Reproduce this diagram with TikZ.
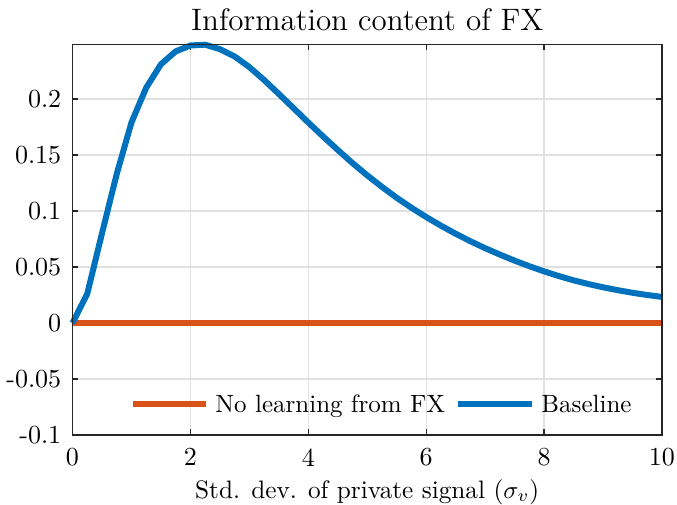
\documentclass[tikz,border=0pt]{standalone}
\definecolor{lineblue}{rgb}{0,0.447,0.741}
\definecolor{lineorange}{rgb}{0.85,0.325,0.098}
\definecolor{gridgray}{rgb}{0.88,0.88,0.88}
\definecolor{axisgray}{rgb}{0.15,0.15,0.15}
\begin{document}
\begin{tikzpicture}[x=23.58pt,y=448pt,
  gridline/.style={gridgray,line width=0.5pt},
  tickmark/.style={axisgray,line width=0.5pt},
  curve/.style={line width=2.4pt,line join=round},
  lbl/.style={inner sep=0pt,font=\fontsize{10.4}{12}\selectfont},
  leglbl/.style={inner sep=0pt,font=\fontsize{10}{12}\selectfont,anchor=base west}]
\useasboundingbox (-1.2298,-0.1616) rectangle (10.2545,0.2884);
\foreach \x in {2,4,6,8} \draw[gridline] (\x,-0.1) -- (\x,0.249);
\foreach \y in {-0.05,0,0.05,0.1,0.15,0.2} \draw[gridline] (0,\y) -- (10,\y);
\foreach \x in {0,2,...,10} {
  \draw[tickmark] (\x,-0.1) -- ++(0pt,2.4pt);
  \draw[tickmark] (\x,0.249) -- ++(0pt,-2.4pt);
  \node[lbl,anchor=north] (xt\x) at ([yshift=-5.2pt]\x,-0.1) {\x};
}
\foreach \y [count=\i] in {-0.1,-0.05,0,0.05,0.1,0.15,0.2} {
  \draw[tickmark] (0,\y) -- ++(2.4pt,0pt);
  \draw[tickmark] (10,\y) -- ++(-2.4pt,0pt);
  \node[lbl,anchor=east] (yt\i) at ([xshift=-4.3pt]0,\y) {\y};
}
\draw[curve,lineorange] (0,0) -- (10,0);
\draw[curve,lineblue] plot coordinates {(0,0) (0.25,0.026) (0.5,0.080) (0.75,0.133)
  (1,0.179) (1.25,0.210) (1.5,0.231) (1.75,0.2425) (2,0.2478) (2.25,0.2485)
  (2.5,0.2445) (2.75,0.2380) (3,0.2285) (3.25,0.2170) (3.5,0.2045) (3.75,0.1918)
  (4,0.1790) (4.25,0.1666) (4.5,0.1545) (4.75,0.1428) (5,0.1318) (5.25,0.1215)
  (5.5,0.1118) (5.75,0.1029) (6,0.0946) (6.25,0.0869) (6.5,0.0797) (6.75,0.0730)
  (7,0.0668) (7.25,0.0611) (7.5,0.0557) (7.75,0.0507) (8,0.0461) (8.25,0.0419)
  (8.5,0.0381) (8.75,0.0348) (9,0.0319) (9.25,0.0293) (9.5,0.0270) (9.75,0.0250)
  (10,0.0233)};
\draw[tickmark] (0,-0.1) rectangle (10,0.249);
\node[leglbl] (legno) at (2.417,-0.0795) {No learning from FX};
\node[leglbl] (legbase) at (7.947,-0.0795) {Baseline};
\draw[curve,lineorange] ([xshift=-3.6pt,yshift=3.2pt]legno.base west) -- ++(-29.2pt,0pt);
\draw[curve,lineblue] ([xshift=-3.6pt,yshift=3.2pt]legbase.base west) -- ++(-29.6pt,0pt);
\node[inner sep=0pt,font=\fontsize{12.4}{15}\selectfont,anchor=base] (title) at (5,0.2616) {Information content of FX};
\node[inner sep=0pt,font=\fontsize{10.1}{12}\selectfont,anchor=base] (xlabel) at (5,-0.15625) {Std. dev. of private signal ($\sigma_v$)};
\end{tikzpicture}
\end{document}
